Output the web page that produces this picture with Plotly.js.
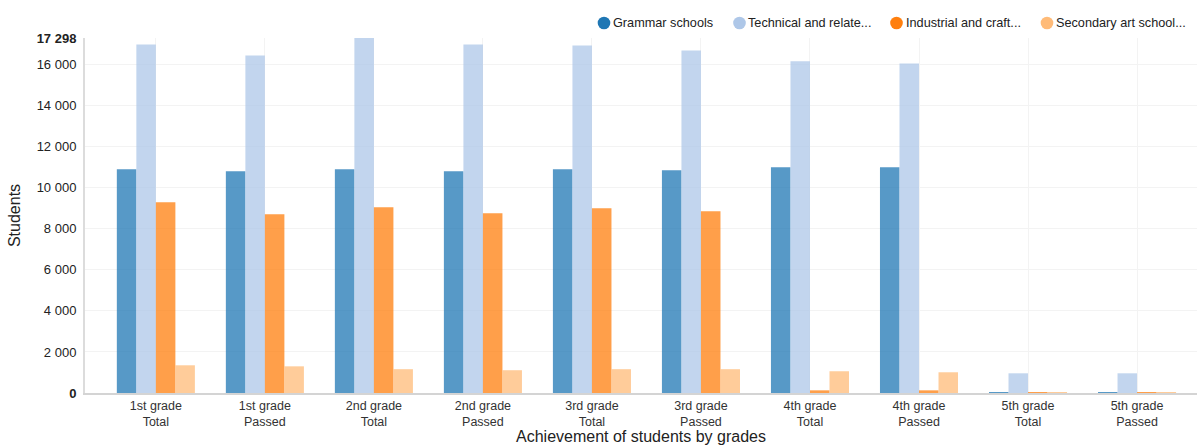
<!DOCTYPE html>
<html>
<head>
<meta charset="utf-8">
<script src="https://cdn.plot.ly/plotly-3.0.1.min.js"></script>
<style>html,body{margin:0;padding:0;background:#fff;}#chart{width:1200px;height:445px;}</style>
</head>
<body>
<div id="chart"></div>
<script>
const categories = [
  "1st grade<br>Total", "1st grade<br>Passed",
  "2nd grade<br>Total", "2nd grade<br>Passed",
  "3rd grade<br>Total", "3rd grade<br>Passed",
  "4th grade<br>Total", "4th grade<br>Passed",
  "5th grade<br>Total", "5th grade<br>Passed"
];
const seriesNames = ["Grammar schools", "Technical and relate...", "Industrial and craft...", "Secondary art school..."];
const grammar    = [10900, 10800, 10900, 10800, 10900, 10850, 11000, 11000, 45, 45];
const technical  = [16980, 16450, 17298, 16980, 16930, 16690, 16160, 16060, 960, 960];
const industrial = [9290, 8710, 9050, 8760, 9000, 8860, 130, 130, 45, 45];
const artSchools = [1350, 1300, 1160, 1110, 1160, 1160, 1060, 1010, 30, 30];
const yTickVals  = [0, 2000, 4000, 6000, 8000, 10000, 12000, 14000, 16000, 17298];
const yTickText  = ["<b>0</b>", "2 000", "4 000", "6 000", "8 000", "10 000", "12 000", "14 000", "16 000", "<b>17 298</b>"];
const colors = ["#1f77b4", "#aec7e8", "#ff7f0e", "#ffbb78"];

const seriesValues = [grammar, technical, industrial, artSchools];
const FONT = "Liberation Sans, Arial, sans-serif";

const traces = seriesValues.map((vals, i) => ({
  type: "bar",
  name: seriesNames[i],
  x: categories,
  y: vals,
  marker: {color: colors[i], opacity: 0.75, line: {width: 0}},
  showlegend: false,
  hoverinfo: "x+y+name"
}));

// custom legend (circles + text) placed in pixel positions
const W = 1200, H = 445, ML = 85, MR = 3, MT = 38, MB = 52;
const PW = W - ML - MR, PH = H - MT - MB;
const px2x = p => (p - ML) / PW;
const py2y = p => 1 + (MT - p) / PH;
const legendCircleX = [604, 739.5, 896.5, 1047];
const legendTextX = [611, 746, 904, 1054];
const legendY = 23;

const shapes = seriesNames.map((n, i) => ({
  type: "circle", xref: "paper", yref: "paper",
  xsizemode: "pixel", ysizemode: "pixel",
  xanchor: px2x(legendCircleX[i]), yanchor: py2y(legendY),
  x0: -6.3, x1: 6.3, y0: -6.3, y1: 6.3,
  fillcolor: colors[i], line: {width: 0}
}));
const annotations = seriesNames.map((n, i) => ({
  text: n, xref: "paper", yref: "paper",
  x: px2x(legendTextX[i]), y: py2y(legendY),
  xanchor: "left", yanchor: "middle", showarrow: false,
  font: {family: FONT, size: 12.7, color: "#222"}
}));

const layout = {
  width: W, height: H,
  margin: {l: ML, r: MR, t: MT, b: MB, pad: 0},
  paper_bgcolor: "#fff", plot_bgcolor: "#fff",
  font: {family: FONT, size: 13, color: "#333"},
  barmode: "group", bargap: 0.284, bargroupgap: 0,
  showlegend: false,
  xaxis: {
    type: "category",
    range: [-0.65, 9.55],
    showgrid: true, gridcolor: "#f3f3f3", gridwidth: 1,
    showline: true, linecolor: "#d4d4d4", linewidth: 2,
    ticks: "", tickfont: {family: FONT, size: 12.5, color: "#333"},
    title: {text: "Achievement of students by grades", font: {family: FONT, size: 16, color: "#222"}, standoff: 9},
    automargin: false, fixedrange: true
  },
  yaxis: {
    range: [0, 17298],
    tickmode: "array", tickvals: yTickVals, ticktext: yTickText,
    showgrid: true, gridcolor: "#f3f3f3", gridwidth: 1,
    zeroline: false,
    showline: true, linecolor: "#dcdcdc", linewidth: 2,
    ticks: "", ticklabelstandoff: 4,
    tickfont: {family: FONT, size: 13, color: "#222"},
    title: {text: "Students", font: {family: FONT, size: 16, color: "#222"}, standoff: 12},
    automargin: false, fixedrange: true
  },
  shapes: shapes,
  annotations: annotations
};

Plotly.newPlot("chart", traces, layout, {displayModeBar: false, responsive: false});
</script>
</body>
</html>
